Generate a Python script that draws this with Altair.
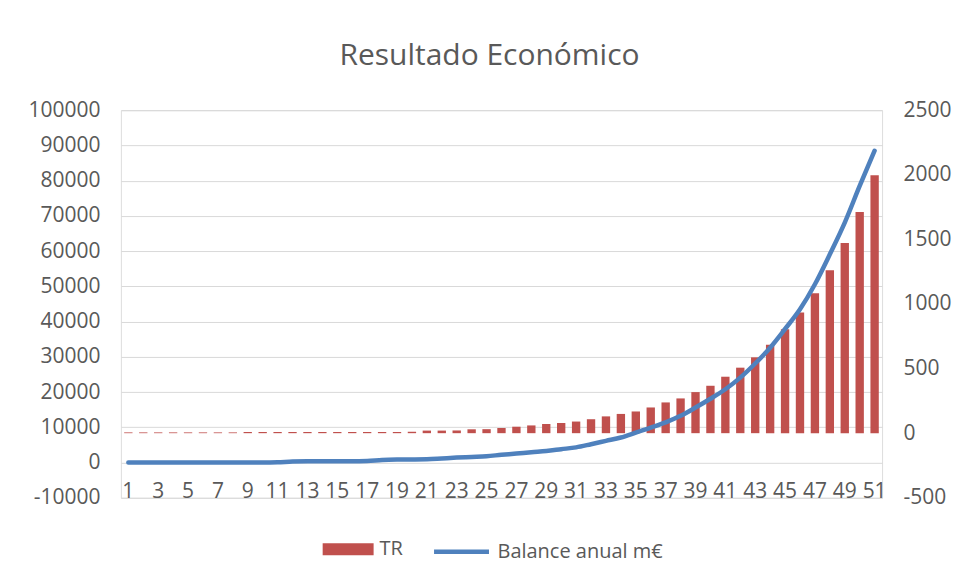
import altair as alt
import pandas as pd

years = list(range(1, 52))
tr = [6, 6, 6, 6, 6, 6, 6, 6, 9, 9,
      9, 9, 9, 9, 9, 9, 9, 9, 9, 11,
      20, 20, 21, 30, 31, 40, 50, 60, 71, 79,
      90, 108, 130, 149, 168, 199, 238, 269, 318, 367,
      437, 507, 587, 685, 804, 934, 1084, 1262, 1472, 1712,
      1996]
balance = [0, 0, 0, 0, 0, 0, 0, 0, 0, 0,
           60, 300, 350, 350, 350, 380, 450, 750, 850, 870,
           920, 1150, 1400, 1600, 1800, 2200, 2550, 2950, 3300, 3800,
           4300, 5200, 6150, 7100, 8500, 9900, 11400, 13250, 15600, 18100,
           20800, 24100, 28100, 32600, 37900, 43500, 50600, 59100, 68100, 78500,
           88500]
x_labels = [y for y in years if y % 2 == 1]
left_ticks = list(range(-10000, 100001, 10000))
right_ticks = list(range(-500, 2501, 500))

df = pd.DataFrame({"year": years, "tr": tr, "balance": balance})

GRAY = "#595959"
FONT = "Open Sans"
PLAIN = "'' + datum.value"

xenc = alt.X(
    "year:O",
    scale=alt.Scale(paddingInner=0.44, paddingOuter=0.22),
    axis=alt.Axis(
        values=x_labels, title=None, labelAngle=0, ticks=False, tickSize=0,
        domain=False, grid=False, labelOverlap=False, labelFlush=False,
        labelBaseline="middle", offset=-8, labelPadding=2,
        labelFontSize=21, labelColor=GRAY, labelFont=FONT,
    ),
)

bars = alt.Chart(df).transform_calculate(s="'TR'").mark_bar(
    color="#C0504D"
).encode(
    x=xenc,
    y=alt.Y(
        "tr:Q",
        scale=alt.Scale(domain=[-500, 2500], nice=False, zero=True),
        axis=alt.Axis(
            orient="right", values=right_ticks, title=None, grid=False,
            domain=False, ticks=False, labelPadding=21, labelExpr=PLAIN,
            labelFontSize=21, labelColor=GRAY, labelFont=FONT,
        ),
    ),
    color=alt.Color(
        "s:N",
        scale=alt.Scale(domain=["TR"], range=["#C0504D"]),
        legend=alt.Legend(
            title=None, orient="none", legendX=202, legendY=414,
            symbolType="M-1,-0.235H1V0.235H-1Z", symbolSize=2601,
            symbolStrokeWidth=0, labelOffset=6, padding=0, labelLimit=400,
            labelFontSize=20, labelColor=GRAY, labelFont=FONT,
        ),
    ),
)

line = alt.Chart(df).transform_calculate(s="'Balance anual m€'").mark_line(
    strokeWidth=4.5, interpolate="monotone", strokeCap="round"
).encode(
    x=xenc,
    y=alt.Y(
        "balance:Q",
        scale=alt.Scale(domain=[-10000, 100000], nice=False),
        axis=alt.Axis(
            orient="left", values=left_ticks, title=None, grid=True,
            gridColor="#D9D9D9", gridWidth=1, domain=False, ticks=False,
            labelPadding=21, labelExpr=PLAIN,
            labelFontSize=21, labelColor=GRAY, labelFont=FONT,
        ),
    ),
    color=alt.Color(
        "s:N",
        scale=alt.Scale(domain=["Balance anual m€"], range=["#4F81BD"]),
        legend=alt.Legend(
            title=None, orient="none", legendX=311, legendY=412,
            symbolType="stroke", symbolSize=3025, symbolStrokeWidth=4.5,
            labelOffset=6, padding=0, labelLimit=400,
            labelFontSize=20, labelColor=GRAY, labelFont=FONT,
        ),
    ),
)

chart = alt.layer(bars, line).resolve_scale(
    y="independent", color="independent"
).resolve_legend(color="independent").properties(
    width=762,
    height=388,
    padding={"left": 19, "top": 33, "right": 0, "bottom": 5},
    title=alt.TitleParams(
        "Resultado Económico", fontSize=30, font=FONT, fontWeight="normal",
        color=GRAY, anchor="middle", dx=-12, offset=28,
    ),
).configure_view(stroke=None).configure(background="white")

chart.save("out.html", embed_options={"renderer": "svg", "actions": False})
